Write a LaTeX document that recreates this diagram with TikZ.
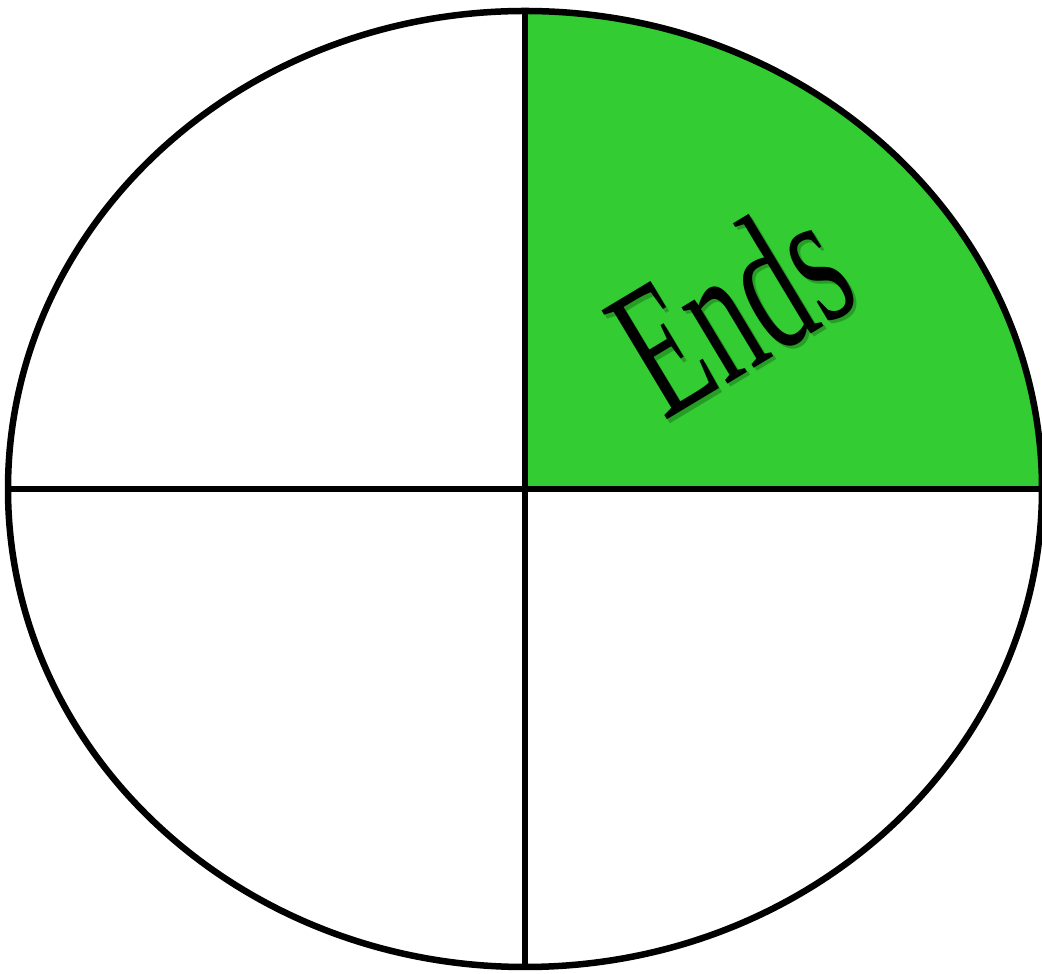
\documentclass[tikz,border=0pt]{standalone}
\usepackage{fontspec}
\setmainfont{Liberation Serif}
\definecolor{endsgreen}{RGB}{51,204,51}
\definecolor{shadowgreen}{RGB}{20,90,20}
\begin{document}
\begin{tikzpicture}[x=1pt,y=1pt,
  outline/.style={line width=6.5pt,draw=black},
  wordart/.style={font=\fontsize{194}{194}\selectfont,rotate=31,xscale=0.6,inner sep=0pt}]
\useasboundingbox (0,0) rectangle (1042,974);
\coordinate (c) at (525,485);
\fill[endsgreen] (c) -- ++(517,0) arc[start angle=0,end angle=90,x radius=517,y radius=478] -- cycle;
\draw[outline] (c) ellipse[x radius=517,y radius=478];
\draw[outline] ([xshift=-517pt]c) -- ([xshift=517pt]c);
\draw[outline] ([yshift=478pt]c) -- ([yshift=-478pt]c);
\node[wordart,text=shadowgreen,opacity=0.4] (endsshadow) at (733.5,665.5) {Ends};
\node[wordart,text=black] (ends) at (730,669) {Ends};
\end{tikzpicture}
\end{document}
